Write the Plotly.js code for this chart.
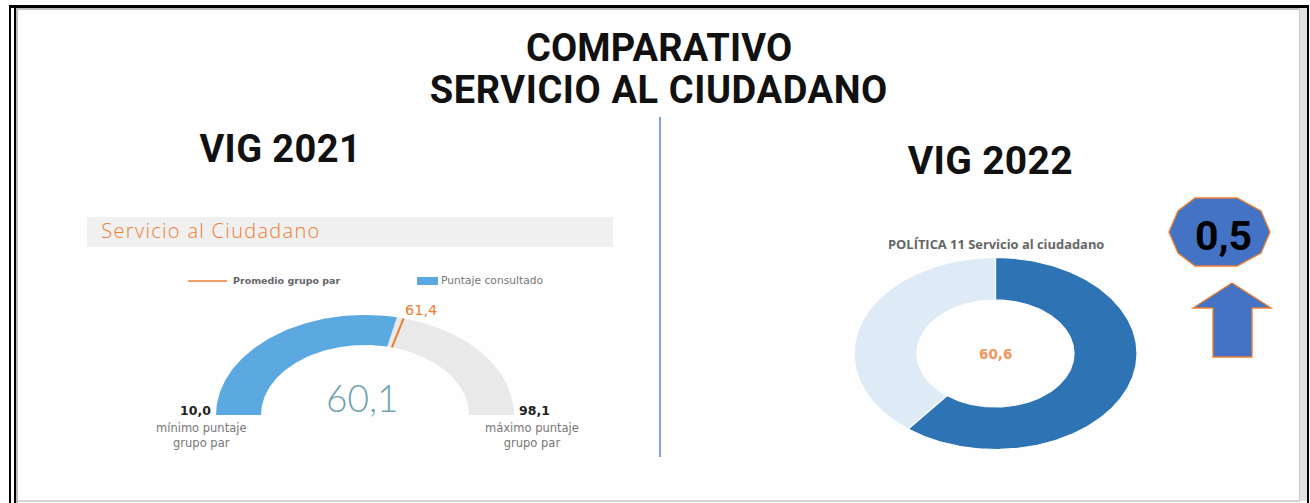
<!DOCTYPE html>
<html><head><meta charset="utf-8">
<script src="https://cdn.plot.ly/plotly-3.0.1.min.js"></script>
<style>html,body{margin:0;padding:0;background:#fff;overflow:hidden}#c{width:1310px;height:503px}
#c .annotation[data-index="0"] text{letter-spacing:.2px}
#c .annotation[data-index="1"] text{letter-spacing:.6px}
#c .annotation[data-index="2"] text{letter-spacing:.4px}
#c .annotation[data-index="3"] text{letter-spacing:.3px}
#c .annotation[data-index="4"] text{letter-spacing:1.3px}
</style>
</head><body><div id="c"></div>
<script>
// Data
const gaugeMin = 10.0, gaugeMax = 98.1, gaugeScore = 60.1, gaugeAverage = 61.4;
const donutValue = 60.6, donutTotal = 100;
const difference = "0,5";
const gaugeColors = {score:"#5BA9E0", rest:"#E9E9E9", avg:"#ED7D31"};
const donutColors = {value:"#2E74B5", rest:"#DEEAF6"};

// Geometry (pixels, the axes span the page)
const G = {cx:365, cy:415, rx:149, ry:100, rxi:104, ryi:70};
const D = {cx:995.5, cy:353.5, rx:141.5, ry:96, rxi:78.5, ryi:53.5};

function sector(g, a0, a1){ // angles in degrees, clockwise from 12 o'clock
  const n = Math.max(2, Math.ceil(Math.abs(a1-a0)));
  const x=[], y=[];
  for(let i=0;i<=n;i++){const a=(a0+(a1-a0)*i/n)*Math.PI/180; x.push(g.cx+g.rx*Math.sin(a)); y.push(g.cy-g.ry*Math.cos(a));}
  for(let i=n;i>=0;i--){const a=(a0+(a1-a0)*i/n)*Math.PI/180; x.push(g.cx+g.rxi*Math.sin(a)); y.push(g.cy-g.ryi*Math.cos(a));}
  x.push(x[0]); y.push(y[0]);
  return {x,y};
}
const gAng = v => -90 + 180*(v-gaugeMin)/(gaugeMax-gaugeMin);
const dAng = v => 360*v/donutTotal;
function area(s,color,name,line){
  return {type:"scatter",mode:"lines",x:s.x,y:s.y,fill:"toself",fillcolor:color,name,
    line:{color:line||color,width:line?1.2:0},hoverinfo:"name",showlegend:false};
}
const aAvg = gAng(gaugeAverage)*Math.PI/180, aScore = gAng(gaugeScore);
const traces = [
  area(sector(G,aScore,90),gaugeColors.rest,"Resto"),
  area(sector(G,-90,aScore),gaugeColors.score,"Puntaje consultado"),
  {type:"scatter",mode:"lines",name:"Promedio grupo par",showlegend:false,hoverinfo:"name",
    x:[G.cx+G.rxi*Math.sin(aAvg),G.cx+G.rx*Math.sin(aAvg)],
    y:[G.cy-G.ryi*Math.cos(aAvg),G.cy-G.ry*Math.cos(aAvg)],
    line:{color:gaugeColors.avg,width:2}},
  area(sector(D,0,dAng(donutValue)),donutColors.value,"Servicio al ciudadano","#ffffff"),
  area(sector(D,dAng(donutValue),360),donutColors.rest,"Resto","#ffffff")
];

const frame = "#000000";
function rect(x0,y0,x1,y1,fill){return {type:"rect",xref:"x",yref:"y",x0,y0,x1,y1,fillcolor:fill,line:{width:0},layer:"below"};}
const shapes = [
  rect(9,5,1309,8,frame),
  rect(16,8,1300,10,"#BDBDBD"),
  rect(9,5,11,503,frame),
  rect(14,8,16,503,frame),
  rect(16,10,18,503,"#BDBDBD"),
  rect(1299,8,1300,501,"#C8C8C8"),
  rect(1300,8,1307,501,"#E2E2E2"),
  rect(1307,5,1309,503,frame),
  rect(18,500,1300,502,"#D4D4D4"),
  rect(87,217,613,247,"#F0F0F0"),
  {type:"line",x0:660,x1:660,y0:117,y1:457,line:{color:"#4472C4",width:1.3}},
  {type:"line",x0:188,x1:227,y0:281,y1:281,line:{color:"#ED7D31",width:1.5}},
  rect(417,277,438,285,"#5BA9E0"),
  {type:"path",path:"M1195,198 L1237,198 L1261,211 L1270,232 L1261,253 L1237,266 L1195,266 L1178,253 L1169,232 L1178,211 Z",
    fillcolor:"#4472C4",line:{color:"#ED7D31",width:1.3}},
  {type:"path",path:"M1232,283 L1271,308 L1252,308 L1252,357 L1213,357 L1213,308 L1193,308 Z",
    fillcolor:"#4472C4",line:{color:"#ED7D31",width:1.3}}
];

const TF = "Roboto, sans-serif", BF = "DejaVu Sans, sans-serif", OF = "Open Sans, sans-serif";
function txt(text,x,y,size,color,family,anchor,weight){
  return {text,x,y,xref:"x",yref:"y",showarrow:false,xanchor:anchor||"center",yanchor:"middle",
    font:{size,color,family,weight:weight||400}};
}
const annotations = [
  txt("<b>COMPARATIVO</b>",659,47.5,38,"#111",TF),
  txt("<b>SERVICIO AL CIUDADANO</b>",659,90,38,"#111",TF),
  txt("<b>VIG 2021</b>",280,149,38,"#111",TF),
  txt("<b>VIG 2022</b>",990,161,39,"#111",TF),
  txt("Servicio al Ciudadano",113,230,20,"#ED7D31",OF,"left",300),
  txt("<b>Promedio grupo par</b>",231,280,9.5,"#666",BF,"left"),
  txt("Puntaje consultado",439,280,10.7,"#777",BF,"left"),
  txt(String(gaugeAverage).replace(".",","),420.5,310,14.5,"#ED7D31",BF),
  txt(String(gaugeScore).replace(".",","),362,397,37,"#6FA3B0","Lato, sans-serif","center",300),
  txt("<b>"+gaugeMin.toFixed(1).replace(".",",")+"</b>",195,410,12.5,"#222",BF),
  txt("<b>"+String(gaugeMax).replace(".",",")+"</b>",534,410,12.5,"#222",BF),
  txt("mínimo puntaje<br>grupo par",201,435,11.5,"#777",BF),
  txt("máximo puntaje<br>grupo par",532,435,11.5,"#777",BF),
  txt("<b>POLÍTICA 11 Servicio al ciudadano</b>",996,244,12.9,"#666",OF),
  txt("<b>"+String(donutValue).replace(".",",")+"</b>",995.5,354,13.5,"#F4955A",BF),
  txt("<b>"+difference+"</b>",1223.5,236,41,"#000",TF)
];
const hidden = {visible:false,fixedrange:true};
Plotly.newPlot("c",traces,{
  width:1310,height:503,margin:{l:0,r:0,t:0,b:0},
  paper_bgcolor:"#FEFEFE",plot_bgcolor:"#FEFEFE",showlegend:false,
  xaxis:Object.assign({range:[0,1310]},hidden),
  yaxis:Object.assign({range:[503,0]},hidden),
  shapes,annotations
},{displayModeBar:false,staticPlot:true});
</script></body></html>
